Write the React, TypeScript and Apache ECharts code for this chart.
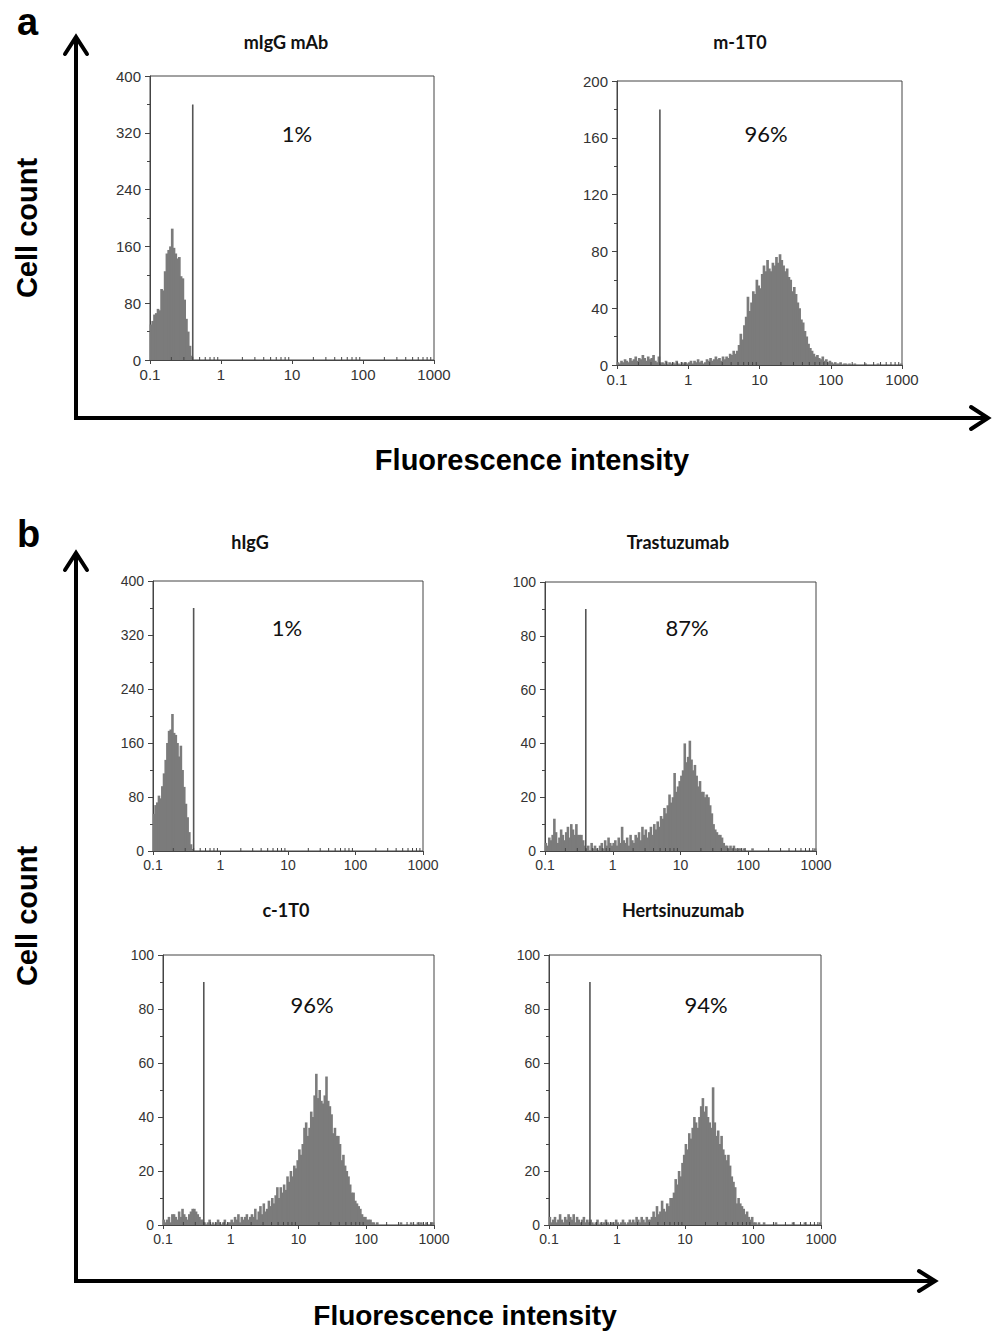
import React, { useEffect, useRef } from 'react';
import * as echarts from 'echarts';

// ---------- data ----------
const CHANNELS_PER_DECADE = 40;
const X_MIN = 0.1;
const X_MAX = 1000;
const X_TICK_LABELS = ['0.1', '1', '10', '100', '1000'];
const panelTitles = ['mIgG mAb', 'm-1T0', 'hIgG', 'Trastuzumab', 'c-1T0', 'Hertsinuzumab'];
const panelPercents = ['1%', '96%', '1%', '87%', '96%', '94%'];
const yMaxValues = [400, 200, 400, 100, 100, 100];
const gateValue = 0.4;
const gateHeights = [360, 180, 360, 90, 90, 90];

// counts per channel (40 channels per decade, starting at 0.1)
const mIgGCounts = [50, 55, 64, 66, 72, 70, 100, 98, 125, 150, 155, 160, 185, 158, 150, 143, 145, 118, 115, 85, 58, 40, 20, 6];

const m1T0Counts = [
  2, 1, 3, 2, 4, 3, 2, 5, 3, 4, 6, 3, 5, 4, 7, 5, 3, 6, 4, 5, 7, 3, 2, 6,
  1, 2, 1, 3, 0, 2, 1, 2, 1, 3, 1, 0, 2, 1, 2, 1,
  2, 3, 1, 3, 2, 4, 2, 3, 1, 2, 4, 3, 5, 3, 4, 6, 4, 5, 3, 6,
  4, 6, 5, 8, 7, 10, 8,
  10, 14, 22, 18, 28, 34, 48, 38, 44, 52,
  50, 60, 56, 54, 64, 70, 66, 74, 68, 66,
  72, 70, 76, 72, 78, 74, 70, 66, 68, 62,
  60, 52, 55, 50, 44, 40, 32, 30, 24, 20,
  15, 12, 10, 8,
  6, 7, 5, 4, 6, 3, 4, 2, 3, 2,
  1, 2, 1, 1, 2, 0, 1, 1, 0, 1, 0, 0, 1, 0, 0, 0, 0, 0, 1, 0, 0, 0, 0, 0, 0, 1, 0, 0, 0, 0, 0, 0, 0, 0, 0, 0, 0, 0, 1,
];

const hIgGCounts = [55, 68, 72, 82, 78, 96, 115, 135, 160, 178, 180, 203, 175, 172, 160, 140, 156, 120, 95, 70, 50, 28, 10, 3];

const trastuzumabCounts = [
  3, 2, 5, 4, 6, 12, 7, 3, 5, 8, 6, 4, 7, 9, 5, 10, 8, 6, 10, 6, 6, 6, 4, 2,
  1, 2, 0, 3, 1, 2, 1, 0, 2, 3, 1, 4, 2, 5, 3, 2,
  3, 4, 2, 5, 3, 9, 4, 3, 5, 2, 6, 4,
  3, 6, 5, 7, 4, 9, 6, 8, 5, 7, 9, 6,
  10, 8, 11, 9, 13, 12, 16, 14, 17, 21,
  18, 20, 29, 22, 24, 26,
  28, 30, 40, 33, 35, 41, 34, 30,
  32, 28, 24, 26, 22,
  22, 20, 21, 20, 17, 14, 10,
  8, 7, 6, 6, 5, 3, 2, 2, 1,
  2, 1, 2, 1, 0, 1, 1, 0, 1, 0, 0, 0,
  0, 1, 0, 0, 0, 0, 0, 0, 0, 0, 0, 0, 0, 0, 0, 0, 0, 0, 0, 0, 0, 0, 0, 0, 0, 0, 0, 0, 0, 0, 0, 0, 0, 0, 0, 0, 0, 0, 1,
];

const c1T0Counts = [
  2, 1, 2, 3, 1, 4, 4, 3, 2, 5, 3, 6, 4, 3, 2, 4, 5, 6, 6, 5, 4, 3, 2, 2,
  1, 0, 1, 2, 0, 1, 0, 1, 2, 1, 0, 1, 2, 0, 1, 1,
  2, 1, 3, 2, 4, 1, 3, 2, 3, 4, 2, 3,
  4, 3, 6, 2, 5, 7, 4, 8, 5, 6, 9, 7, 10, 8, 11, 14,
  10, 14, 12, 15, 13, 18, 16, 20, 18, 22, 21, 24,
  28, 26, 30, 36, 38, 33, 36, 42,
  40, 48, 56, 47, 50,
  46, 45, 48, 55, 46, 44, 41,
  34, 36, 33, 33, 30, 24, 26, 22, 20,
  18, 15, 12, 12, 9, 8, 7, 6, 4, 3, 3, 2,
  2, 2, 1, 1, 0, 1, 0, 0,
  0, 0, 0, 0, 0, 0, 0, 0, 0, 0, 0, 1, 0, 0, 0, 0, 0, 1, 0, 0, 0, 1, 0, 1, 0, 0, 1, 0, 0, 1, 1,
];

const hertsinuzumabCounts = [
  3, 1, 2, 3, 1, 2, 4, 2, 1, 3, 2, 4, 3, 2, 4, 1, 3, 2, 1, 2, 3, 1, 2, 1,
  2, 1, 0, 1, 2, 0, 1, 0, 1, 2, 1, 0, 1, 1, 0, 2,
  1, 0, 1, 2, 1, 0, 1, 2, 1, 2, 1, 3, 2, 1, 3, 2, 1, 3, 2,
  2, 3, 5, 3, 7, 4, 5, 9, 6,
  5, 8, 7, 10, 10, 12, 17, 15, 20, 18, 23, 26,
  30, 28, 34, 32, 36, 40, 38, 36,
  40, 44, 47, 42, 44,
  40, 38, 36, 51, 38, 33, 35,
  30, 33, 28, 26, 24, 26, 22, 18, 16,
  14, 8, 10, 8, 7, 6, 4, 5, 3, 2, 3, 1,
  1, 0, 1, 0, 0, 1, 0, 0, 0, 0, 0, 0, 1, 0, 0, 0, 0, 0, 0, 0, 0, 0, 1, 0, 0, 0, 0, 0, 0, 1, 0, 0, 0, 0, 0, 0, 0, 0, 1,
];

const panelCounts = [mIgGCounts, m1T0Counts, hIgGCounts, trastuzumabCounts, c1T0Counts, hertsinuzumabCounts];

// ---------- layout ----------
const gridRects = [
  { left: 150, top: 76, width: 284, height: 284 },
  { left: 617, top: 81, width: 285, height: 284 },
  { left: 153, top: 581, width: 270, height: 270 },
  { left: 545, top: 582, width: 271, height: 269 },
  { left: 163, top: 955, width: 271, height: 270 },
  { left: 549, top: 955, width: 272, height: 270 },
];
const titlePos = [[286, 42], [740, 42], [250, 542], [678, 542], [286, 910], [683, 910]];
const percentPos = [[297, 133], [766, 133], [287, 627], [687, 627], [312, 1004], [706, 1004]];
const tickFont = [15, 15, 14, 14, 14, 14];

const AXIS_COLOR = '#444';
const LABEL_COLOR = '#333';
const BAR_COLOR = '#7b7b7b';
const SANS = '"Liberation Sans", Arial, sans-serif';
const HUMAN = 'Lato, "Open Sans", sans-serif';

function minorTickValues(): number[] {
  const out: number[] = [];
  for (let e = -1; e < 3; e++) {
    for (let m = 2; m <= 9; m++) out.push(m * Math.pow(10, e));
  }
  return out;
}

function channelEdges(i: number): [number, number] {
  return [Math.pow(10, -1 + i / CHANNELS_PER_DECADE), Math.pow(10, -1 + (i + 1) / CHANNELS_PER_DECADE)];
}

function formatTick(v: number): string {
  const exp = Math.round(Math.log10(v)) + 1;
  return X_TICK_LABELS[exp] ?? String(v);
}

function buildOption() {
  const grid: any[] = [];
  const xAxis: any[] = [];
  const yAxis: any[] = [];
  const series: any[] = [];
  const graphic: any[] = [];
  const minors = minorTickValues();

  gridRects.forEach((r, k) => {
    grid.push({ ...r, show: true, borderColor: AXIS_COLOR, borderWidth: 1, backgroundColor: 'transparent' });
    xAxis.push({
      type: 'log', logBase: 10, gridIndex: k, min: X_MIN, max: X_MAX, splitNumber: 4,
      axisLine: { show: true, onZero: false, lineStyle: { color: AXIS_COLOR, width: 1 } },
      axisTick: { show: true, length: 4, lineStyle: { color: AXIS_COLOR } },
      axisLabel: { color: LABEL_COLOR, fontFamily: SANS, fontSize: tickFont[k], margin: 7, formatter: formatTick },
      splitLine: { show: false },
    });
    const yMax = yMaxValues[k];
    yAxis.push({
      type: 'value', gridIndex: k, min: 0, max: yMax, interval: yMax / 5,
      axisLine: { show: true, lineStyle: { color: AXIS_COLOR, width: 1 } },
      axisTick: { show: true, length: 5, lineStyle: { color: AXIS_COLOR } },
      minorTick: { show: true, splitNumber: 2, length: 3, lineStyle: { color: AXIS_COLOR } },
      axisLabel: { color: LABEL_COLOR, fontFamily: SANS, fontSize: tickFont[k], margin: 9 },
      splitLine: { show: false },
    });

    const data = panelCounts[k]
      .map((c, i) => {
        const [a, b] = channelEdges(i);
        return [a, b, c];
      })
      .filter((d) => d[2] > 0);

    series.push({
      type: 'custom', xAxisIndex: k, yAxisIndex: k, data,
      encode: { x: [0, 1], y: 2 },
      renderItem: (params: any, api: any) => {
        const p0 = api.coord([api.value(0), api.value(2)]);
        const p1 = api.coord([api.value(1), 0]);
        return {
          type: 'rect',
          shape: { x: p0[0] - 0.4, y: p0[1], width: p1[0] - p0[0] + 0.9, height: p1[1] - p0[1] },
          style: { fill: BAR_COLOR },
        };
      },
      z: 2,
    });
    series.push({
      type: 'line', xAxisIndex: k, yAxisIndex: k,
      data: [[gateValue, 0], [gateValue, gateHeights[k]]],
      symbol: 'none', lineStyle: { color: '#555', width: 1.6 }, z: 3,
    });
    series.push({
      type: 'custom', xAxisIndex: k, yAxisIndex: k,
      data: minors.map((v) => [v, 0]),
      renderItem: (params: any, api: any) => {
        const p = api.coord([api.value(0), 0]);
        return {
          type: 'line',
          shape: { x1: p[0], y1: p[1], x2: p[0], y2: p[1] - 3 },
          style: { stroke: AXIS_COLOR, lineWidth: 1 },
        };
      },
      z: 4,
    });

    graphic.push({
      type: 'text', x: titlePos[k][0], y: titlePos[k][1],
      style: { text: panelTitles[k], font: `bold 18px ${HUMAN}`, fill: '#111', align: 'center', verticalAlign: 'middle' },
    });
    graphic.push({
      type: 'text', x: percentPos[k][0], y: percentPos[k][1],
      style: { text: panelPercents[k], font: `22px ${HUMAN}`, fill: '#111', align: 'center', verticalAlign: 'middle' },
    });
  });

  const arrow = { stroke: '#000', lineWidth: 4, fill: 'none', lineJoin: 'miter', lineCap: 'butt' };
  const head = { stroke: '#000', lineWidth: 4, fill: 'none', lineJoin: 'miter', lineCap: 'round' };
  // panel a arrows
  graphic.push({ type: 'polyline', shape: { points: [[76, 38], [76, 418], [987, 418]] }, style: arrow });
  graphic.push({ type: 'polyline', shape: { points: [[65, 54], [76, 37], [87, 54]] }, style: head });
  graphic.push({ type: 'polyline', shape: { points: [[971, 407], [988, 418], [971, 429]] }, style: head });
  // panel b arrows
  graphic.push({ type: 'polyline', shape: { points: [[76, 554], [76, 1281], [934, 1281]] }, style: arrow });
  graphic.push({ type: 'polyline', shape: { points: [[65, 570], [76, 553], [87, 570]] }, style: head });
  graphic.push({ type: 'polyline', shape: { points: [[919, 1271], [935, 1281], [919, 1291]] }, style: head });

  const big = `bold 29px ${SANS}`;
  graphic.push({ type: 'text', x: 17, y: 22, style: { text: 'a', font: `bold 38px ${SANS}`, fill: '#000', align: 'left', verticalAlign: 'middle' } });
  graphic.push({ type: 'text', x: 17, y: 534, style: { text: 'b', font: `bold 38px ${SANS}`, fill: '#000', align: 'left', verticalAlign: 'middle' } });
  graphic.push({ type: 'text', x: 27, y: 228, rotation: Math.PI / 2, style: { text: 'Cell count', font: big, fill: '#000', align: 'center', verticalAlign: 'middle' } });
  graphic.push({ type: 'text', x: 27, y: 916, rotation: Math.PI / 2, style: { text: 'Cell count', font: big, fill: '#000', align: 'center', verticalAlign: 'middle' } });
  graphic.push({ type: 'text', x: 532, y: 460, style: { text: 'Fluorescence intensity', font: big, fill: '#000', align: 'center', verticalAlign: 'middle' } });
  graphic.push({ type: 'text', x: 465, y: 1315, style: { text: 'Fluorescence intensity', font: `bold 28px ${SANS}`, fill: '#000', align: 'center', verticalAlign: 'middle' } });

  return { animation: false, backgroundColor: '#fff', grid, xAxis, yAxis, series, graphic };
}

export default function App() {
  const ref = useRef<HTMLDivElement>(null);
  useEffect(() => {
    document.body.style.margin = '0';
    if (!ref.current) return;
    const chart = echarts.init(ref.current, undefined, { renderer: 'svg' });
    chart.setOption(buildOption() as any);
    return () => chart.dispose();
  }, []);
  return <div ref={ref} style={{ width: 993, height: 1332 }} />;
}
